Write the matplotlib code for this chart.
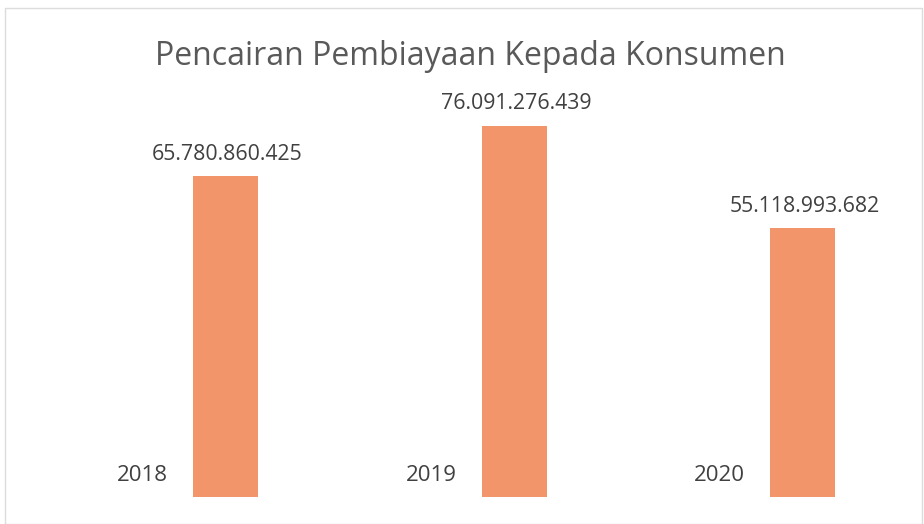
import matplotlib
matplotlib.use("Agg")
import matplotlib.pyplot as plt
from matplotlib.patches import Rectangle

years = ["2018", "2019", "2020"]
values = [65780860425, 76091276439, 55118993682]
value_labels = ["65.780.860.425", "76.091.276.439", "55.118.993.682"]
title = "Pencairan Pembiayaan Kepada Konsumen"

W, H = 924, 524
fig = plt.figure(figsize=(W / 100, H / 100), dpi=100)
fig.patch.set_facecolor("white")

# frame of the chart area
fig.patches.append(Rectangle((5 / W, 0), (W - 5) / W - 2 / W, (H - 8) / H,
                             transform=fig.transFigure, fill=False,
                             edgecolor="#dcdcdc", linewidth=1.0))

bottom_px, top_px = 497, 27
ax = fig.add_axes([0, (H - bottom_px) / H, 1, (bottom_px - top_px) / H])
ax.set_facecolor("none")
spacing = 288.5
ax.set_xlim(-225.5 / spacing, 2 + (W - 802.5) / spacing)
scale = 4.875  # px per billion
ax.set_ylim(0, (bottom_px - top_px) / scale * 1e9)
ax.axis("off")

x = list(range(len(years)))
bars = ax.bar(x, values, width=65 / spacing, color="#F2956B", edgecolor="none")

font = "Open Sans"
for xi, v, lab in zip(x, values, value_labels):
    ax.annotate(lab, (xi + 2 / spacing, v), xytext=(0, 12), textcoords="offset points",
                ha="center", va="baseline", fontsize=15.3, color="#404040",
                family=font)
for xi, yr in zip(x, years):
    ax.annotate(yr, (xi - 83 / spacing, 0), xytext=(0, 11.5), textcoords="offset points",
                ha="center", va="baseline", fontsize=16, color="#404040", family=font)

fig.text(470 / W, 1 - 65 / H, title, ha="center", va="baseline", fontsize=23,
         color="#595959", family=font)

fig.savefig("out.png", dpi=100)
